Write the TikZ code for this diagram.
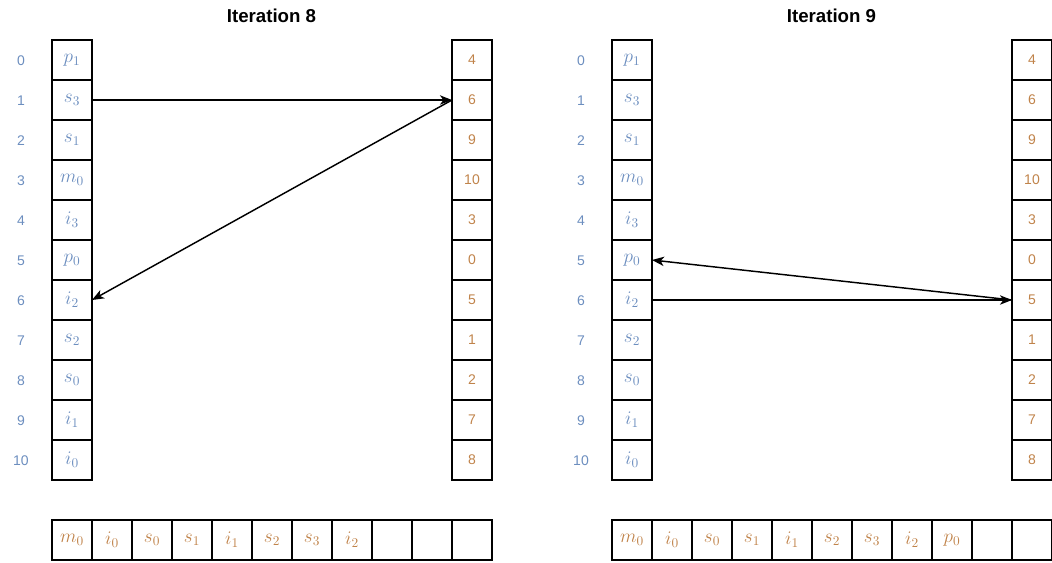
\documentclass[tikz,border=0pt]{standalone}
\usepackage{fontspec}
\setsansfont{Liberation Sans}
\usepackage{tikz}
\usetikzlibrary{positioning,arrows.meta}
\definecolor{idxblue}{HTML}{6C8EBF}
\definecolor{valbrown}{HTML}{C0834A}

\begin{document}
\begin{tikzpicture}[
    x=1pt,y=1pt,
    >={Stealth[length=9pt,width=7pt,inset=2.5pt]},
    node distance=0pt,
    cell/.style={draw,line width=0.95pt,minimum size=30pt,inner sep=0pt,outer sep=0pt},
    slot/.style={cell,text=idxblue,font=\fontsize{14}{16}\selectfont},
    val/.style={cell,text=valbrown,font=\sffamily\fontsize{10.5}{12}\selectfont},
    outcell/.style={cell,text=valbrown,font=\fontsize{14}{16}\selectfont},
    idx/.style={text=idxblue,font=\sffamily\fontsize{10.5}{12}\selectfont},
    heading/.style={font=\sffamily\bfseries\fontsize{14}{16}\selectfont},
    arr/.style={->,line width=1.1pt}
]
\useasboundingbox (0,0) rectangle (789,-421.5);

% Iteration 8
\node[heading] (t8) at (203.6,-12) {Iteration 8};
\node[slot] (a0) at (54,-45) {$p_1$};
\foreach \v [count=\i from 1, remember=\i as \j (initially 0)] in {s_3,s_1,m_0,i_3,p_0,i_2,s_2,s_0,i_1,i_0}
  \node[slot,below=of a\j] (a\i) {$\v$};
\foreach \i in {0,...,10}
  \node[idx] (ai\i) at ([xshift=-38.25pt,yshift=-0.75pt]a\i.center) {\i};

\node[val] (b0) at (354,-45) {4};
\foreach \v [count=\i from 1, remember=\i as \j (initially 0)] in {6,9,10,3,0,5,1,2,7,8}
  \node[val,below=of b\j] (b\i) {\v};

\node[outcell] (c0) at (54,-405) {$m_0$};
\foreach \v [count=\i from 1, remember=\i as \j (initially 0)] in {i_0,s_0,s_1,i_1,s_2,s_3,i_2,,,}
  \node[outcell,right=of c\j] (c\i) {$\v$};

\draw[arr] (a1.east) -- (b1.west);
\draw[arr] (b1.west) -- (a6.east);

% Iteration 9
\node[heading] (t9) at (623.6,-12) {Iteration 9};
\node[slot] (d0) at (474,-45) {$p_1$};
\foreach \v [count=\i from 1, remember=\i as \j (initially 0)] in {s_3,s_1,m_0,i_3,p_0,i_2,s_2,s_0,i_1,i_0}
  \node[slot,below=of d\j] (d\i) {$\v$};
\foreach \i in {0,...,10}
  \node[idx] (di\i) at ([xshift=-38.25pt,yshift=-0.75pt]d\i.center) {\i};

\node[val] (e0) at (774,-45) {4};
\foreach \v [count=\i from 1, remember=\i as \j (initially 0)] in {6,9,10,3,0,5,1,2,7,8}
  \node[val,below=of e\j] (e\i) {\v};

\node[outcell] (f0) at (474,-405) {$m_0$};
\foreach \v [count=\i from 1, remember=\i as \j (initially 0)] in {i_0,s_0,s_1,i_1,s_2,s_3,i_2,p_0,,}
  \node[outcell,right=of f\j] (f\i) {$\v$};

\draw[arr] (d6.east) -- (e6.west);
\draw[arr] (e6.west) -- (d5.east);
\end{tikzpicture}
\end{document}
